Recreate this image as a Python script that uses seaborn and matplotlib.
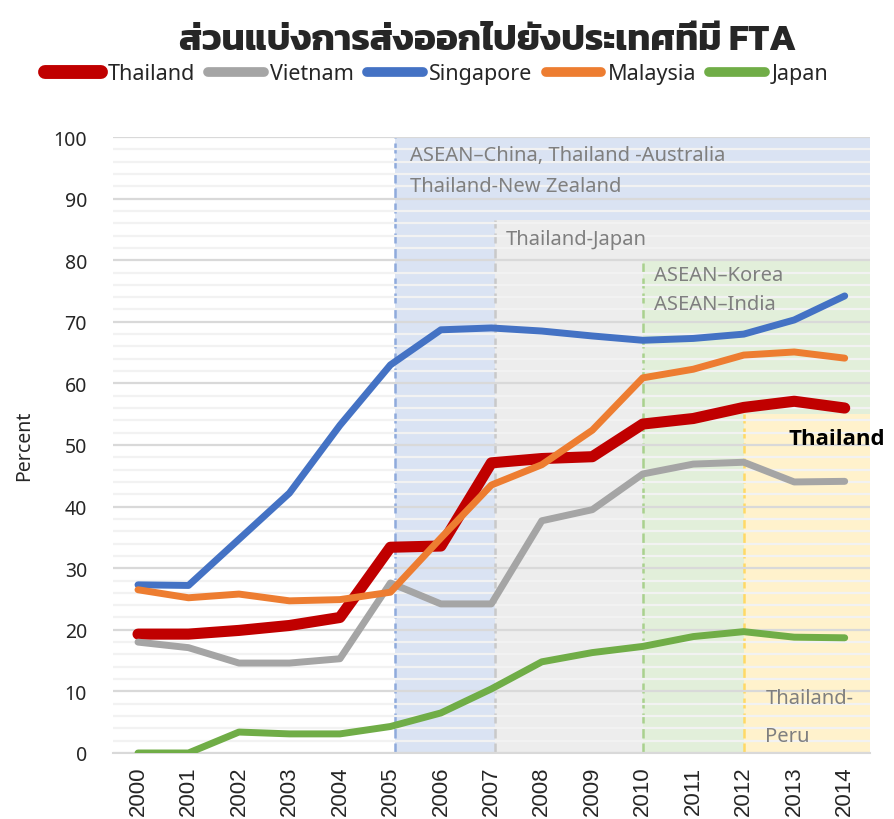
import numpy as np
import matplotlib
matplotlib.use("Agg")
import matplotlib.pyplot as plt
from matplotlib.lines import Line2D
import seaborn as sns
import pandas as pd

years = [str(y) for y in range(2000, 2015)]
thailand = [19.3, 19.3, 19.9, 20.7, 22.0, 33.4, 33.6, 47.1, 47.8, 48.1, 53.4, 54.3, 56.1, 57.1, 56.0]
vietnam = [18.0, 17.1, 14.6, 14.6, 15.3, 27.6, 24.2, 24.2, 37.7, 39.5, 45.3, 46.9, 47.2, 44.0, 44.1]
singapore = [27.3, 27.2, 34.7, 42.2, 53.2, 63.0, 68.7, 69.0, 68.5, 67.7, 67.0, 67.3, 68.0, 70.3, 74.2]
malaysia = [26.5, 25.2, 25.8, 24.7, 24.9, 26.1, 34.9, 43.5, 46.8, 52.4, 60.9, 62.3, 64.6, 65.1, 64.1]
japan = [0.0, 0.0, 3.4, 3.1, 3.1, 4.3, 6.5, 10.4, 14.8, 16.3, 17.3, 18.9, 19.7, 18.8, 18.7]

countries = ["Thailand", "Vietnam", "Singapore", "Malaysia", "Japan"]
colors = ["#C00000", "#A5A5A5", "#4472C4", "#ED7D31", "#70AD47"]
widths = [8, 5, 5, 5, 5]

# FTA periods: start position (year index), height of the shaded block
fta_start = [5.1, 7.07, 10.0, 12.0]
fta_top = [100, 86.5, 80, 55]
fta_fill = ["#DAE3F3", "#EDEDED", "#E2EFDA", "#FFF2CC"]
fta_edge = ["#8FAADC", "#C9C9C9", "#A9D18E", "#FFD966"]

df = pd.DataFrame({"year": years * 5,
                   "value": thailand + vietnam + singapore + malaysia + japan,
                   "country": np.repeat(countries, len(years))})

sns.set_style("white")
plt.rcParams["font.family"] = ["Noto Sans", "DejaVu Sans"]

fig = plt.figure(figsize=(8.95, 8.2), dpi=100)
ax = fig.add_axes([0.126, 0.0805, 0.846, 0.7512])

for x0, top, fc, ec in zip(fta_start, fta_top, fta_fill, fta_edge):
    ax.fill_between([x0, 14.5], 0, top, color=fc, lw=0, zorder=0.5)
    ax.vlines(x0, 0, top, colors=ec, linestyles=(0, (4, 2)), lw=1.8, zorder=0.8)

for c, col, w in zip(countries, colors, widths):
    sns.lineplot(data=df[df["country"] == c], x="year", y="value", color=col,
                 lw=w, ax=ax, zorder=3, sort=False,
                 solid_capstyle="round", solid_joinstyle="round")

ax.set_xlim(-0.5, 14.5)
ax.set_ylim(0, 100)
ax.set_yticks(np.arange(0, 101, 10))
ax.set_yticks(np.arange(0, 101, 2), minor=True)
ax.set_axisbelow(False)
ax.grid(axis="y", which="minor", color="#F2F2F2", lw=1.6)
ax.grid(axis="y", which="major", color="#D9D9D9", lw=1.6)

ax.set_xticks(np.arange(15))
ax.set_xticklabels(years, rotation=90, family=["Liberation Sans Narrow", "Liberation Sans"], fontsize=16)
ax.set_xticks(np.arange(-0.5, 15, 1), minor=True)
ax.tick_params(axis="x", which="major", length=0, pad=9)
ax.tick_params(axis="x", which="minor", length=9, color="#D9D9D9", width=1.5)
ax.tick_params(axis="y", which="both", length=0, labelsize=14, pad=18.5)
for s in ["top", "right", "left"]:
    ax.spines[s].set_visible(False)
ax.spines["bottom"].set_color("#D9D9D9")
ax.spines["bottom"].set_linewidth(1.5)
ax.set_xlabel("")
ax.set_ylabel("Percent", fontsize=14, labelpad=14)

note = dict(color="#7F7F7F", fontsize=14.5, va="center", ha="left", zorder=2.8)
ax.text(5.38, 97.0, "ASEAN–China, Thailand -Australia", **note)
ax.text(5.38, 92.0, "Thailand-New Zealand", **note)
ax.text(7.28, 83.4, "Thailand-Japan", **note)
ax.text(10.23, 77.6, "ASEAN–Korea", **note)
ax.text(10.23, 72.9, "ASEAN–India", **note)
ax.text(12.43, 9.0, "Thailand-", **note)
ax.text(12.43, 2.7, "Peru", **note)
ax.text(12.88, 51.0, "Thailand", fontsize=16, fontweight="bold", color="black",
        family=["Open Sans", "DejaVu Sans"], va="center", ha="left", zorder=4, clip_on=False)

fig.suptitle("ส่วนแบ่งการส่งออกไปยังประเทศที่มี FTA", x=0.545, y=0.97,
             fontsize=26.5, fontweight="bold", family=["Kanit", "DejaVu Sans"])

handles = [Line2D([], [], color=col, lw=w + 2, solid_capstyle="round") for col, w in zip(colors, widths)]
fig.legend(handles, countries, loc="center", bbox_to_anchor=(0.488, 0.909), ncol=5,
           frameon=False, handlelength=2.6, handletextpad=0.3, columnspacing=0.6,
           prop={"family": ["Noto Sans Thai", "DejaVu Sans"], "size": 15.5})

fig.savefig("out.png", dpi=100)
